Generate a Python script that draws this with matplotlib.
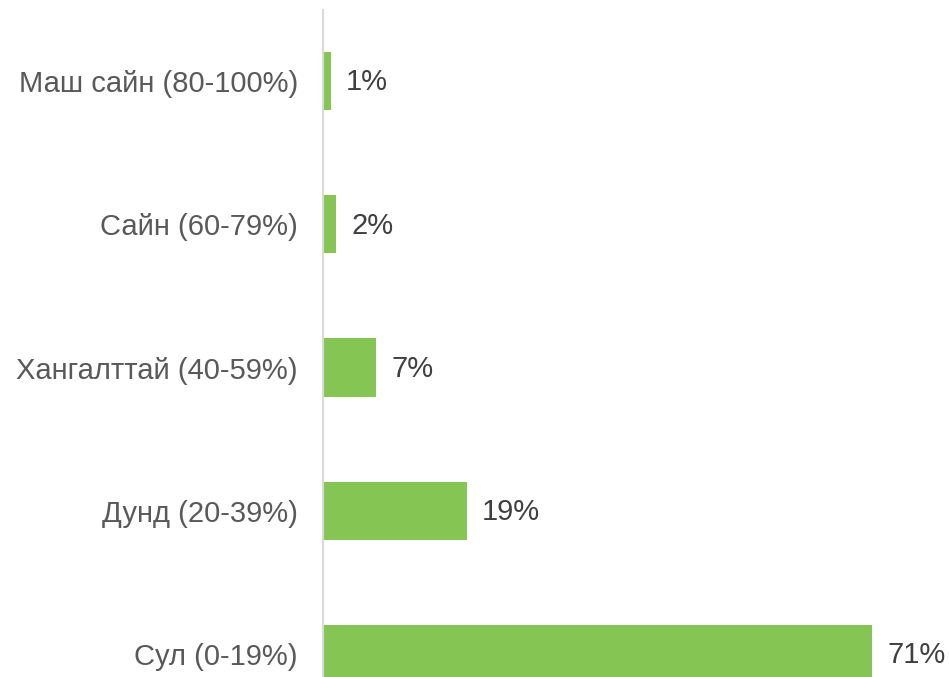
import matplotlib
matplotlib.use("Agg")
import matplotlib.pyplot as plt

# categories from bottom to top
categories = ["Сул (0-19%)", "Дунд (20-39%)", "Хангалттай (40-59%)",
              "Сайн (60-79%)", "Маш сайн (80-100%)"]
values = [71, 18.6, 6.9, 1.7, 1.0]
labels = ["71%", "19%", "7%", "2%", "1%"]

plt.rcParams['font.family'] = ['Liberation Sans', 'DejaVu Sans']

fig = plt.figure(figsize=(9.49, 6.77), dpi=100)
ax = fig.add_axes([323 / 949, 0, 626 / 949, 667 / 677])

pos = range(len(categories))
bars = ax.barh(pos, values, height=0.405, color="#84c553")

for b, lab in zip(bars, labels):
    ax.annotate(lab, (b.get_width(), b.get_y() + b.get_height() / 2),
                xytext=(11, -1), textcoords="offset points",
                va="center", ha="left", fontsize=21, color="#404040")

ax.set_yticks(list(pos))
ax.set_yticklabels(categories, fontsize=21, color="#595959")
ax.tick_params(axis="y", length=0, pad=18)
ax.set_xticks([])
ax.set_xlim(0, 626 / 7.73)
ax.set_ylim(-0.16, 4.495)

for s in ["top", "right", "bottom"]:
    ax.spines[s].set_visible(False)
ax.spines["left"].set_color("#d9d9d9")
ax.spines["left"].set_linewidth(1.5)

fig.savefig("out.png", dpi=100)
